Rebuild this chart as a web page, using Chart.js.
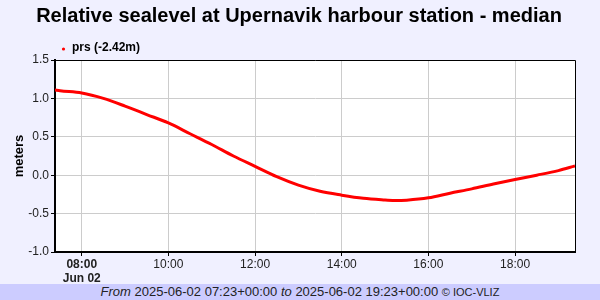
<!DOCTYPE html>
<html>
<head>
<meta charset="utf-8">
<script src="https://cdn.jsdelivr.net/npm/chart.js@4/dist/chart.umd.min.js"></script>
<style>
  html, body { margin: 0; padding: 0; background: #F0F0FF; }
  #wrap { position: relative; width: 600px; height: 284px; }
  #foot {
    width: 600px; height: 16px; background: #CCCCFF; color: #222;
    font: 13px "Liberation Sans", Arial, sans-serif; line-height: 16px;
    text-align: center; white-space: nowrap;
  }
  #foot small { font-size: 11px; }
</style>
</head>
<body>
<div id="wrap"><canvas id="c" width="600" height="284"></canvas></div>
<div id="foot"><i>From</i> 2025-06-02 07:23+00:00 <i>to</i> 2025-06-02 19:23+00:00 <small>© IOC-VLIZ</small></div>
<script>
// Relative sealevel, Upernavik harbour, 2025-06-02 (UTC)
const chartTitle = 'Relative sealevel at Upernavik harbour station - median';
const seriesLabel = 'prs (-2.42m)';
const times = ['07:23', '07:30', '08:00', '08:30', '09:00', '09:30', '10:00', '10:30',
  '11:00', '11:30', '12:00', '12:30', '13:00', '13:30', '14:00', '14:30', '15:00',
  '15:15', '15:30', '16:00', '16:30', '17:00', '17:30', '18:00', '18:30', '19:00', '19:23'];
const prs = [1.11, 1.10, 1.07, 1.00, 0.90, 0.79, 0.68, 0.54,
  0.40, 0.25, 0.115, -0.02, -0.13, -0.21, -0.26, -0.30, -0.322,
  -0.33, -0.325, -0.295, -0.235, -0.178, -0.115, -0.056, 0.00, 0.06, 0.12];
const tickHours = [8, 10, 12, 14, 16, 18];
const tickLabels = ['08:00', '10:00', '12:00', '14:00', '16:00', '18:00'];
const yTicks = [-1.0, -0.5, 0.0, 0.5, 1.0, 1.5];

const toH = (s) => { const [h, m] = s.split(':').map(Number); return h + m / 60; };
const FONT = '"Liberation Sans", Arial, sans-serif';

// Hintergrund, Rahmen, Titel und Legende.
const deco = {
  id: 'deco',
  beforeDraw(chart) {
    const { ctx, chartArea: a } = chart;
    ctx.save();
    ctx.fillStyle = '#fff';
    ctx.fillRect(a.left, a.top, a.right - a.left, a.bottom - a.top);
    ctx.restore();
  },
  afterDraw(chart) {
    const { ctx, chartArea: a } = chart;
    ctx.save();
    ctx.strokeStyle = '#000';
    ctx.lineWidth = 1;
    ctx.beginPath();
    ctx.moveTo(a.left, a.top + 0.5);
    ctx.lineTo(a.right + 0.5, a.top + 0.5);
    ctx.lineTo(a.right + 0.5, a.bottom);
    ctx.stroke();

    ctx.fillStyle = '#000';
    ctx.font = `bold 20px ${FONT}`;
    ctx.textAlign = 'center';
    ctx.textBaseline = 'middle';
    ctx.fillText(chartTitle, 299, 16);

    ctx.fillStyle = '#ff0000';
    ctx.beginPath();
    ctx.arc(63.5, 49, 1.6, 0, Math.PI * 2);
    ctx.fill();
    ctx.fillStyle = '#000';
    ctx.font = `bold 12px ${FONT}`;
    ctx.textAlign = 'left';
    ctx.fillText(chart.data.datasets[0].label, 72, 48);
    ctx.restore();
  },
};

new Chart(document.getElementById('c'), {
  type: 'line',
  data: {
    datasets: [{
      label: seriesLabel,
      data: times.map((t, i) => ({ x: toH(t), y: prs[i] })),
      borderColor: '#ff0000',
      borderWidth: 3,
      pointRadius: 0,
      cubicInterpolationMode: 'monotone',
      fill: false,
    }],
  },
  options: {
    responsive: false,
    animation: false,
    layout: { padding: { top: 60, left: 0, right: 25, bottom: 0 } },
    plugins: { legend: { display: false }, title: { display: false }, tooltip: { enabled: false } },
    scales: {
      x: {
        type: 'linear',
        min: toH(times[0]),
        max: toH(times[times.length - 1]),
        afterBuildTicks: (s) => { s.ticks = tickHours.map((v) => ({ value: v })); },
        afterFit: (s) => { s.height = 32; },
        grid: { color: '#cccccc', tickColor: '#000', tickLength: 4, lineWidth: 1 },
        border: { color: '#000', width: 2 },
        ticks: {
          color: '#222',
          padding: 2,
          maxRotation: 0,
          autoSkip: false,
          font: (c) => ({ family: FONT, size: 12, weight: c.index === 0 ? 'bold' : 'normal', lineHeight: 1.15 }),
          callback: (v, i) => (i === 0 ? [tickLabels[i], 'Jun 02'] : tickLabels[i]),
        },
      },
      y: {
        min: yTicks[0],
        max: yTicks[yTicks.length - 1],
        afterBuildTicks: (s) => { s.ticks = yTicks.map((v) => ({ value: v })); },
        afterFit: (s) => { s.width = 55; },
        grid: { color: '#cccccc', tickColor: '#000', tickLength: 4, lineWidth: 1 },
        border: { color: '#000', width: 2 },
        title: { display: true, text: 'meters', color: '#000', font: { family: FONT, size: 13, weight: 'bold' }, padding: { top: 12, bottom: 4 } },
        ticks: {
          color: '#222',
          padding: 2,
          font: { family: FONT, size: 12 },
          callback: (v) => Number(v).toFixed(1),
        },
      },
    },
  },
  plugins: [deco],
});
</script>
</body>
</html>
